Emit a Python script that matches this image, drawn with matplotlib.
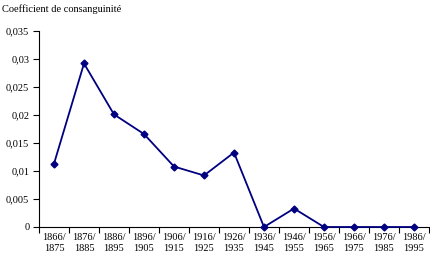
import matplotlib
matplotlib.use('Agg')
import matplotlib.pyplot as plt
import numpy as np

plt.rcParams['font.family'] = ['Liberation Serif', 'DejaVu Serif']

periodes = ['1866/\n1875', '1876/\n1885', '1886/\n1895', '1896/\n1905', '1906/\n1915',
            '1916/\n1925', '1926/\n1935', '1936/\n1945', '1946/\n1955', '1956/\n1965',
            '1966/\n1975', '1976/\n1985', '1986/\n1995']
coefficient = [0.0113, 0.0292, 0.0201, 0.0166, 0.0108, 0.0092, 0.0133,
               0.0, 0.0033, 0.0, 0.0, 0.0, 0.0]
yticks = [0, 0.005, 0.01, 0.015, 0.02, 0.025, 0.03, 0.035]
ylabels = ['0', '0,005', '0,01', '0,015', '0,02', '0,025', '0,03', '0,035']

fig = plt.figure(figsize=(4.30, 2.57), dpi=100)
ax = fig.add_axes([39/430, 30/257, 390/430, 196/257])

x = np.arange(len(periodes))
ax.plot(x, coefficient, color='#000080', lw=1.3, marker='D', ms=3.5, clip_on=False, zorder=3)

ax.set_xlim(-0.5, len(periodes) - 0.5)
ax.set_ylim(0, 0.035)
ax.set_yticks(yticks)
ax.set_yticklabels(ylabels, fontsize=7.5)
ax.set_xticks(x)
ax.set_xticklabels(periodes, fontsize=7.5, linespacing=1.3)
ax.tick_params(axis='x', length=0, pad=4)
ax.set_xticks(np.arange(len(periodes) + 1) - 0.5, minor=True)
ax.tick_params(axis='x', which='minor', length=4, width=0.8, direction='out')
ax.tick_params(axis='y', length=4, width=0.8, direction='out', pad=3)

for s in ['top', 'right']:
    ax.spines[s].set_visible(False)
for s in ['left', 'bottom']:
    ax.spines[s].set_linewidth(0.8)

fig.text(2/430, 1 - 9/257, 'Coefficient de consanguinité', fontsize=7.5, va='center', ha='left')

fig.savefig('out.png', dpi=100)
